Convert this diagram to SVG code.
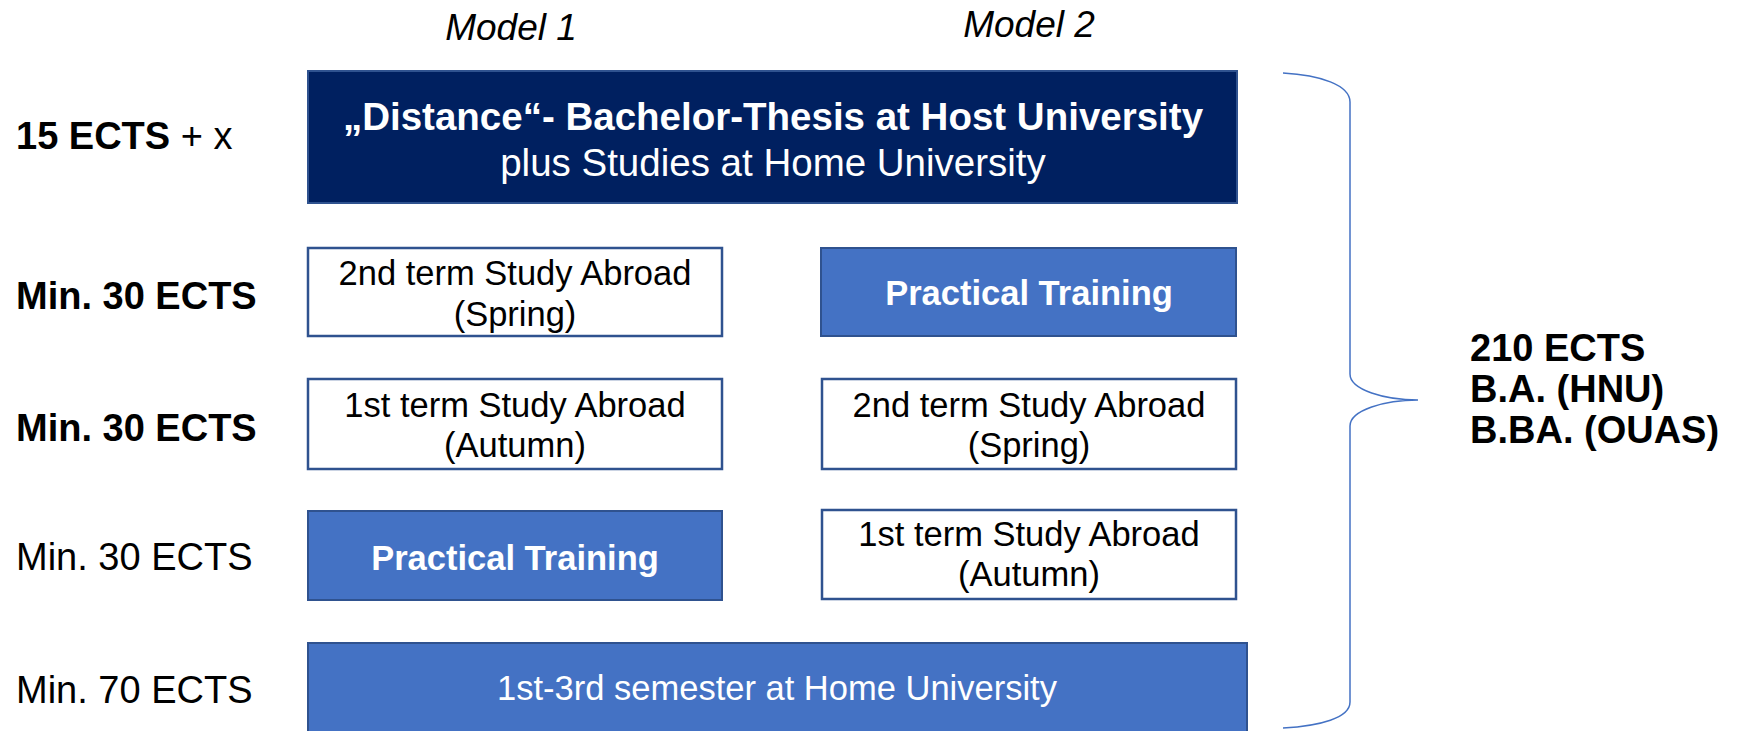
<svg xmlns="http://www.w3.org/2000/svg" width="1739" height="731" viewBox="0 0 1739 731">
  <style>
    text { font-family: "Liberation Sans", Arial, sans-serif; }
    .lbl { font-size: 38px; fill: #000; }
    .b { font-weight: bold; }
    .model { font-size: 37px; font-style: italic; fill: #000; text-anchor: middle; }
    .box-navy { fill: #002060; stroke: #2F528F; stroke-width: 2; }
    .box-blue { fill: #4472C4; stroke: #2F528F; stroke-width: 2; }
    .box-white { fill: #FFFFFF; stroke: #2F528F; stroke-width: 2.5; }
    .t-white { font-size: 34.5px; fill: #FFFFFF; text-anchor: middle; }
    .t-black { font-size: 34.5px; fill: #000000; text-anchor: middle; }
    .t-top { font-size: 38.5px; fill: #FFFFFF; text-anchor: middle; }
    .brace { fill: none; stroke: #4472C4; stroke-width: 1.5; }
  </style>

  <g id="model-labels">
    <text class="model" x="511" y="40">Model 1</text>
    <text class="model" x="1029" y="37">Model 2</text>
  </g>

  <g id="row-labels">
    <text class="lbl" x="16" y="149"><tspan class="b">15 ECTS</tspan> + x</text>
    <text class="lbl b" x="16" y="309">Min. 30 ECTS</text>
    <text class="lbl b" x="16" y="441">Min. 30 ECTS</text>
    <text class="lbl" x="16" y="570">Min. 30 ECTS</text>
    <text class="lbl" x="16" y="703">Min. 70 ECTS</text>
  </g>

  <g id="node-thesis">
    <rect class="box-navy" x="308" y="71" width="929" height="132"/>
    <text class="t-top b" x="773" y="130">„Distance“- Bachelor-Thesis at Host University</text>
    <text class="t-top" x="773" y="176">plus Studies at Home University</text>
  </g>

  <g id="node-m1-spring">
    <rect class="box-white" x="308" y="248" width="414" height="88"/>
    <text class="t-black" x="515" y="285">2nd term Study Abroad</text>
    <text class="t-black" x="515" y="326">(Spring)</text>
  </g>

  <g id="node-m2-practical">
    <rect class="box-blue" x="821" y="248" width="415" height="88"/>
    <text class="t-white b" x="1029" y="305">Practical Training</text>
  </g>

  <g id="node-m1-autumn">
    <rect class="box-white" x="308" y="379" width="414" height="90"/>
    <text class="t-black" x="515" y="417">1st term Study Abroad</text>
    <text class="t-black" x="515" y="457">(Autumn)</text>
  </g>

  <g id="node-m2-spring">
    <rect class="box-white" x="822" y="379" width="414" height="90"/>
    <text class="t-black" x="1029" y="417">2nd term Study Abroad</text>
    <text class="t-black" x="1029" y="457">(Spring)</text>
  </g>

  <g id="node-m1-practical">
    <rect class="box-blue" x="308" y="511" width="414" height="89"/>
    <text class="t-white b" x="515" y="570">Practical Training</text>
  </g>

  <g id="node-m2-autumn">
    <rect class="box-white" x="822" y="510" width="414" height="89"/>
    <text class="t-black" x="1029" y="546">1st term Study Abroad</text>
    <text class="t-black" x="1029" y="586">(Autumn)</text>
  </g>

  <g id="node-home">
    <rect class="box-blue" x="308" y="643" width="939" height="92"/>
    <text class="t-white" x="777" y="700">1st-3rd semester at Home University</text>
  </g>

  <g id="connectors">
    <path class="brace" d="M1283,73 C1320,75 1350,85 1350,102 L1350,374 C1350,390 1385,400 1418,400 C1385,400 1350,410 1350,426 L1350,702 C1350,718 1320,726 1283,728"/>
  </g>

  <g id="total">
    <text class="lbl b" x="1470" y="361">210 ECTS</text>
    <text class="lbl b" x="1470" y="402">B.A. (HNU)</text>
    <text class="lbl b" x="1470" y="443">B.BA. (OUAS)</text>
  </g>
</svg>
